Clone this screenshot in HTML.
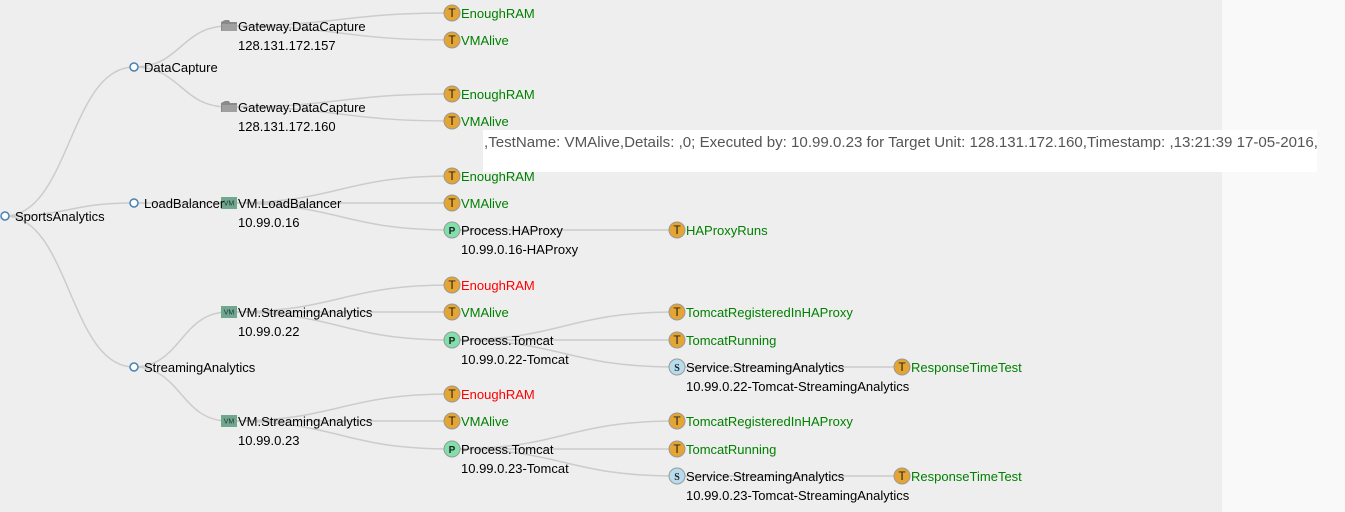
<!DOCTYPE html>
<html><head><meta charset="utf-8">
<style>
html,body{margin:0;padding:0;width:1345px;height:512px;overflow:hidden;background:#f9f9f9;font-family:"Liberation Sans",Arial,sans-serif;}
#bg{position:absolute;left:0;top:0;width:1222px;height:512px;background:#eeeeee;}
svg{position:absolute;left:0;top:0;}
#tip{position:absolute;left:483px;top:130px;width:834px;height:42px;background:#fff;color:#555;font-size:15.1px;line-height:20px;padding-top:3px;padding-left:1px;box-sizing:border-box;white-space:nowrap;}
</style></head>
<body>
<div id="bg"></div>
<svg id="tree" width="1345" height="512"></svg>
<div id="tip">,TestName: VMAlive,Details: ,0; Executed by: 10.99.0.23 for Target Unit: 128.131.172.160,Timestamp: ,13:21:39 17-05-2016,</div>
<script>
// depth column x positions and row y positions (layout)
const depthX = [5, 134, 228, 452, 677, 902];
// tree data: [label, sublabel, type, status, row, children]
const treeData = ["SportsAnalytics","", "o","", 216, [
  ["DataCapture","", "o","", 67, [
    ["Gateway.DataCapture","128.131.172.157","gw","",26,[
      ["EnoughRAM","","T","ok",13,[]],["VMAlive","","T","ok",40,[]]]],
    ["Gateway.DataCapture","128.131.172.160","gw","",107,[
      ["EnoughRAM","","T","ok",94,[]],["VMAlive","","T","ok",121,[]]]]]],
  ["LoadBalancer","", "o","", 203, [
    ["VM.LoadBalancer","10.99.0.16","vm","",203,[
      ["EnoughRAM","","T","ok",176,[]],["VMAlive","","T","ok",203,[]],
      ["Process.HAProxy","10.99.0.16-HAProxy","P","",230,[["HAProxyRuns","","T","ok",230,[]]]]]]]],
  ["StreamingAnalytics","", "o","", 367, [
    ["VM.StreamingAnalytics","10.99.0.22","vm","",312,[
      ["EnoughRAM","","T","fail",285,[]],["VMAlive","","T","ok",312,[]],
      ["Process.Tomcat","10.99.0.22-Tomcat","P","",340,[
        ["TomcatRegisteredInHAProxy","","T","ok",312,[]],["TomcatRunning","","T","ok",340,[]],
        ["Service.StreamingAnalytics","10.99.0.22-Tomcat-StreamingAnalytics","S","",367,[["ResponseTimeTest","","T","ok",367,[]]]]]]]],
    ["VM.StreamingAnalytics","10.99.0.23","vm","",421,[
      ["EnoughRAM","","T","fail",394,[]],["VMAlive","","T","ok",421,[]],
      ["Process.Tomcat","10.99.0.23-Tomcat","P","",449,[
        ["TomcatRegisteredInHAProxy","","T","ok",421,[]],["TomcatRunning","","T","ok",449,[]],
        ["Service.StreamingAnalytics","10.99.0.23-Tomcat-StreamingAnalytics","S","",476,[["ResponseTimeTest","","T","ok",476,[]]]]]]]]]]]];

const NS="http://www.w3.org/2000/svg";
const svg=document.getElementById('tree');
const linkG=document.createElementNS(NS,'g'); svg.appendChild(linkG);
const nodeG=document.createElementNS(NS,'g'); svg.appendChild(nodeG);
function mk(tag,attrs,parent){const e=document.createElementNS(NS,tag);for(const k in attrs)e.setAttribute(k,attrs[k]);parent.appendChild(e);return e;}
function slug(s){return s.toLowerCase().replace(/[^a-z0-9]+/g,'-').replace(/^-|-$/g,'');}

function draw(n,depth){
  const [label,sub,type,status,y,kids]=n;
  const x=depthX[depth];
  kids.forEach(c=>{
    const tx=depthX[depth+1],ty=c[4],mx=(x+tx)/2;
    const p=mk('path',{d:`M${x},${y}C${mx},${y} ${mx},${ty} ${tx},${ty}`,fill:'none',stroke:'#cccccc','stroke-width':1.5},linkG);
    
    
    draw(c,depth+1);
  });
  const g=mk('g',{},nodeG);
  
  
  g.style.cursor='pointer';
  let tx=x+10;
  if(type==='o'){
    mk('circle',{cx:x,cy:y,r:4,fill:'#fff',stroke:'steelblue','stroke-width':1.5},g);
  } else if(type==='vm'){
    mk('rect',{x:x-7,y:y-6,width:16,height:12,fill:'#6fa88c'},g);
    const t=mk('text',{x:x+1,y:y+2.5,'font-size':7,'text-anchor':'middle',fill:'#234'},g);t.textContent='VM';
  } else if(type==='gw'){
    mk('path',{d:`M${x-7},${y+5}L${x-7},${y-4}L${x-3},${y-6}L${x+1},${y-6}L${x+2},${y-4}L${x+9},${y-4}L${x+9},${y+5}Z`,fill:'#8a8a8a'},g);
    mk('rect',{x:x-6,y:y-2,width:15,height:7,fill:'#a0a0a0'},g);
  } else {
    const fills={T:'#e5a532',P:'#7fe0aa',S:'#b7dced'};
    mk('circle',{cx:x,cy:y,r:8,fill:fills[type],stroke:'#999','stroke-width':1},g);
    const t=mk('text',{x:x,y:y+4,'font-size':type==='T'?12:10,'text-anchor':'middle',fill:'#222','font-weight':type==='T'?'normal':'bold','font-family':type==='S'?'Liberation Serif,serif':'Liberation Sans,sans-serif'},g);
    t.textContent=type;
    tx=x+9;
  }
  if(type==='vm'||type==='gw') tx=x+10;
  const col=status==='ok'?'#008000':status==='fail'?'#ff0000':'#000';
  const lt=mk('text',{x:tx,y:y+5,'font-size':13,fill:col},g); lt.textContent=label;
  if(sub){const st=mk('text',{x:tx,y:y+24,'font-size':13,fill:'#000'},g); st.textContent=sub;}
}
draw(treeData,0);
</script>
</body></html>
